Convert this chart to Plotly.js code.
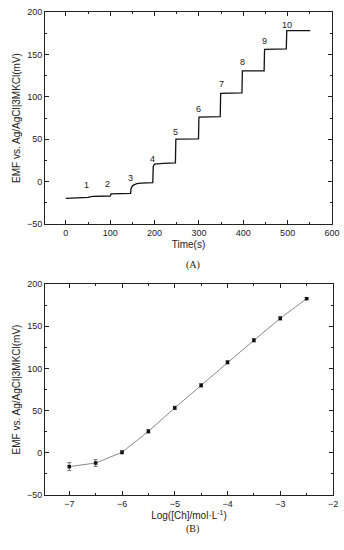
<!DOCTYPE html>
<html><head><meta charset="utf-8">
<script src="https://cdn.plot.ly/plotly-3.0.1.min.js"></script>
<style>html,body{margin:0;padding:0;background:#fff}#chart{width:344px;height:550px}</style>
</head><body><div id="chart"></div>
<script>
// Panel A: time trace
const timeA = [0, 20, 40, 50, 60, 70, 90, 100, 102, 120, 146, 147, 150, 155, 160, 170, 185, 196, 197, 200, 220, 247, 248, 270, 299, 300, 320, 348, 349, 370, 397, 398, 420, 447, 448, 470, 497, 498, 520, 551];
const emfA = [-19.8, -19.5, -19.3, -18.5, -17.5, -17.3, -17.2, -17, -14.5, -14, -13.8, -8, -5, -3.5, -2.5, -1.8, -1.3, -1.2, 18, 20.5, 21.5, 22, 50, 50.5, 50.5, 76, 76.5, 76.5, 104, 104.5, 104.5, 130.5, 130.5, 130.5, 156, 156.5, 156.5, 178, 178, 178];
const stepLabels = ["1","2","3","4","5","6","7","8","9","10"];
const stepLabelX = [46, 94, 146, 196, 247, 300, 350, 399, 448, 499];
const stepLabelY = [-4.5, -3, 4.7, 26.4, 58, 86, 114.6, 141, 166, 185];

// Panel B: calibration
const logC = [-7, -6.5, -6, -5.5, -5, -4.5, -4, -3.5, -3, -2.5];
const emfB = [-16.4, -12.1, 0.6, 25.4, 53.2, 79.9, 107.2, 133.3, 159.3, 182.6];
const errB = [4.7, 4, 2, 2, 2, 2, 2, 2, 2, 1];

const font = {family: 'Liberation Sans, Arial, sans-serif', size: 9, color: '#222'};
function axisBase(extra){
  return Object.assign({
    showline: true, linecolor: '#222', linewidth: 1, mirror: 'allticks',
    ticks: 'inside', ticklen: 4, tickwidth: 1, tickcolor: '#222',
    showgrid: false, zeroline: false, tickfont: font, automargin: false
  }, extra);
}

const traces = [
  {x: timeA, y: emfA, type: 'scatter', mode: 'lines', line: {color: '#111', width: 1.3}, xaxis: 'x', yaxis: 'y', hoverinfo: 'skip'},
  {x: logC, y: emfB, type: 'scatter', mode: 'lines+markers', xaxis: 'x2', yaxis: 'y2',
   line: {color: '#888', width: 1}, marker: {symbol: 'square', size: 3.5, color: '#111'},
   error_y: {type: 'data', array: errB, visible: true, color: '#555', thickness: 0.8, width: 2}}
];

const annotations = stepLabels.map((t, i) => ({
  x: stepLabelX[i], y: stepLabelY[i], xref: 'x', yref: 'y', text: t, showarrow: false,
  font: {family: font.family, size: 9, color: '#222'}
}));
annotations.push({x: 0.56, y: 1 - 265/550, xref: 'paper', yref: 'paper', text: '(A)', showarrow: false,
  font: {family: 'Liberation Serif, Times New Roman, serif', size: 10, color: '#222'}});
annotations.push({x: 0.56, y: 1 - 537/550, xref: 'paper', yref: 'paper', text: '(B)', showarrow: false,
  font: {family: 'Liberation Serif, Times New Roman, serif', size: 10, color: '#222'}});

const ytitle = {text: 'EMF vs. Ag/AgCl|3MKCl(mV)', font: {family: font.family, size: 10, color: '#222'}, standoff: 4};

const layout = {
  width: 344, height: 550, margin: {l: 0, r: 0, t: 0, b: 0},
  paper_bgcolor: '#fff', plot_bgcolor: '#fff', showlegend: false,
  xaxis: axisBase({domain: [45/344, 332/344], anchor: 'y', range: [-47, 600], tickvals: [0,100,200,300,400,500,600],
    minor: {dtick: 50, tick0: 0, ticks: 'inside', ticklen: 2, tickcolor: '#222'},
    title: {text: 'Time(s)', font: {family: font.family, size: 10, color: '#222'}, standoff: 4}}),
  yaxis: axisBase({domain: [1 - 224/550, 1 - 12/550], anchor: 'x', range: [-50, 200], tickvals: [-50,0,50,100,150,200],
    minor: {dtick: 25, tick0: 0, ticks: 'inside', ticklen: 2, tickcolor: '#222'}, title: ytitle}),
  xaxis2: axisBase({domain: [45/344, 333/344], anchor: 'y2', range: [-7.46, -2], tickvals: [-7,-6,-5,-4,-3,-2],
    minor: {dtick: 0.5, tick0: 0, ticks: 'inside', ticklen: 2, tickcolor: '#222'},
    title: {text: 'Log([Ch]/mol·L<sup>-1</sup>)', font: {family: font.family, size: 10, color: '#222'}, standoff: 4}}),
  yaxis2: axisBase({domain: [1 - 495/550, 1 - 284/550], anchor: 'x2', range: [-50, 200], tickvals: [-50,0,50,100,150,200],
    minor: {dtick: 25, tick0: 0, ticks: 'inside', ticklen: 2, tickcolor: '#222'}, title: ytitle}),
  annotations: annotations
};

Plotly.newPlot('chart', traces, layout, {staticPlot: true, displayModeBar: false});
</script></body></html>
